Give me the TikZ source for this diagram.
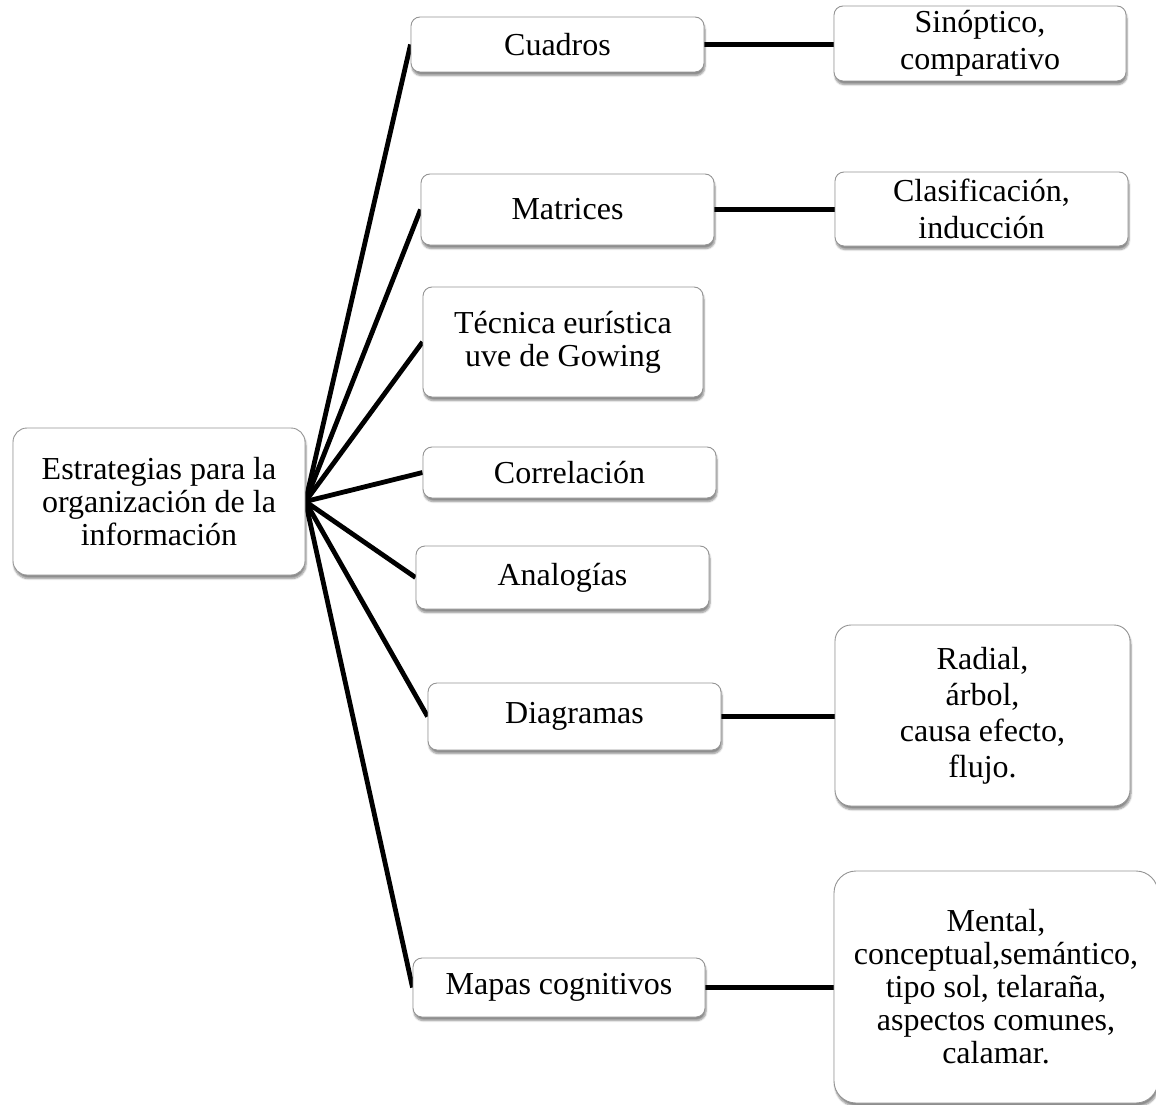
\documentclass[tikz,border=0pt]{standalone}
\usepackage{fontspec}
\setmainfont{Liberation Serif}
\usetikzlibrary{shadows.blur,backgrounds}

\tikzset{
  box/.style={draw=black!42, line width=0.9pt, fill=white, rounded corners=9pt,
    align=center, inner sep=0pt, font=\fontsize{32}{33}\selectfont,
    blur shadow={shadow xshift=1pt, shadow yshift=-3.5pt, shadow blur steps=6,
                 shadow blur extra rounding=2pt, shadow opacity=45}},
  spaced/.style={font=\fontsize{32}{37}\selectfont},
  link/.style={line width=4.8pt, black}
}

\begin{document}
\begin{tikzpicture}[x=1pt, y=-1pt]
\useasboundingbox (0,0) rectangle (1156,1105);

% central topic
\node[box, rounded corners=14pt, minimum width=292pt, minimum height=147pt] (root) at (159,501.5)
  {Estrategias para la\\organización de la\\información};

% first level
\node[box, minimum width=293pt, minimum height=55pt] (cuadros) at (557.5,44.5) {Cuadros};
\node[box, minimum width=293pt, minimum height=71pt] (matrices) at (567.5,209.5) {Matrices};
\node[box, minimum width=280pt, minimum height=110pt] (tecnica) at (563,342) {Técnica eurística\\uve de Gowing};
\node[box, minimum width=293pt, minimum height=51pt] (correl) at (569.5,472.5) {Correlación};
\node[box, minimum width=293pt, minimum height=63pt] (analog) at (562.5,577.5) {Analogías};
\node[box, minimum width=293pt, minimum height=67pt] (diagr) at (574.5,716.5) {Diagramas};
\node[box, minimum width=292pt, minimum height=59pt] (mapas) at (559,987.5) {Mapas cognitivos};

% second level
\node[box, spaced, minimum width=292pt, minimum height=75pt] (sinop) at (980,43.5) {Sinóptico,\\comparativo};
\node[box, spaced, minimum width=293pt, minimum height=74pt] (clasif) at (981.5,209) {Clasificación,\\inducción};
\node[box, rounded corners=16pt, font=\fontsize{32}{36}\selectfont, minimum width=295pt, minimum height=181pt] (radial) at (982.5,715.5)
  {Radial,\\árbol,\\causa efecto,\\flujo.};
\node[box, rounded corners=22pt, minimum width=324pt, minimum height=232pt] (mental) at (996,987)
  {Mental,\\conceptual,semántico,\\tipo sol, telaraña,\\aspectos comunes,\\calamar.};

\begin{scope}[on background layer]
  \foreach \n in {cuadros,matrices,tecnica,correl,analog,diagr,mapas}
    \draw[link] (root.east) -- (\n.west);
  \draw[link] (cuadros.east) -- (cuadros.east -| sinop.west);
  \draw[link] (matrices.east) -- (matrices.east -| clasif.west);
  \draw[link] (diagr.east) -- (diagr.east -| radial.west);
  \draw[link] (mapas.east) -- (mapas.east -| mental.west);
\end{scope}
\end{tikzpicture}
\end{document}
